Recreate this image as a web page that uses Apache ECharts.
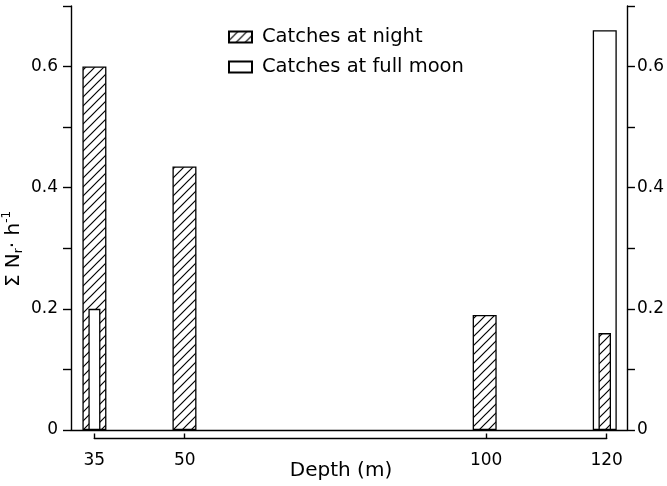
<!DOCTYPE html>
<html>
<head>
<meta charset="utf-8">
<script src="https://cdn.jsdelivr.net/npm/echarts@6/dist/echarts.min.js"></script>
<style>
html,body{margin:0;padding:0;background:#fff;}
#chart{width:667px;height:486px;}
</style>
</head>
<body>
<div id="chart"></div>
<script>
// ---- data ----
const depthTicks = [35, 50, 100, 120];
const yTicks = [0, 0.2, 0.4, 0.6];
const nightDepths = [35, 50, 100, 120];
const nightValues = [0.6, 0.435, 0.19, 0.16];
const moonDepths = [35, 120];
const moonValues = [0.2, 0.66];
// depths where the bar is drawn narrow, in front of the other series
const nightNarrowAt = [120];
const moonNarrowAt = [35];

const FONT = 'DejaVu Sans';

// hatch pattern
const tile = document.createElement('canvas');
tile.width = 9; tile.height = 9;
const tc = tile.getContext('2d');
tc.fillStyle = '#fff'; tc.fillRect(0, 0, 9, 9);
tc.strokeStyle = '#000'; tc.lineWidth = 1.2;
tc.beginPath();
tc.moveTo(-1, 10); tc.lineTo(10, -1);
tc.moveTo(-2, 2); tc.lineTo(2, -2);
tc.moveTo(7, 11); tc.lineTo(11, 7);
tc.stroke();
const hatch = { image: tile, repeat: 'repeat' };

function pairs(xs, vs, filt) {
  const out = [];
  xs.forEach((x, i) => { if (filt(x)) out.push([x, vs[i]]); });
  return out;
}

const nightWide = pairs(nightDepths, nightValues, x => nightNarrowAt.indexOf(x) < 0);
const nightNarrow = pairs(nightDepths, nightValues, x => nightNarrowAt.indexOf(x) >= 0);
const moonWide = pairs(moonDepths, moonValues, x => moonNarrowAt.indexOf(x) < 0);
const moonNarrow = pairs(moonDepths, moonValues, x => moonNarrowAt.indexOf(x) >= 0);

const XMIN = 31.1, XMAX = 123.7;
function hiddenX(i) {
  return { type: 'value', gridIndex: 0, min: XMIN, max: XMAX, show: false };
}

const chart = echarts.init(document.getElementById('chart'), null, { renderer: 'canvas' });

function yLabel(v) {
  for (const t of yTicks) if (Math.abs(v - t) < 1e-6) return t === 0 ? '0' : String(t);
  return '';
}

const option = {
  backgroundColor: '#fff',
  animation: false,
  grid: [
    { left: 71, right: 38, top: 6, height: 424 },
    { left: 94.3, right: 60.3, top: 437.5, height: 1 }
  ],
  legend: {
    orient: 'vertical',
    left: 228, top: 26,
    padding: 0,
    icon: 'rect',
    itemWidth: 23, itemHeight: 11,
    itemGap: 8,
    data: ['Catches at night', 'Catches at full moon'],
    textStyle: { fontFamily: FONT, fontSize: 19.5, color: '#000', lineHeight: 22, padding: [0, 0, 0, 5] },
    selectedMode: false
  },
  xAxis: [
    { type: 'value', gridIndex: 0, min: XMIN, max: XMAX,
      axisLine: { show: true, onZero: false, lineStyle: { color: '#000', width: 1.4 } },
      axisTick: { show: false }, axisLabel: { show: false }, splitLine: { show: false } },
    hiddenX(1), hiddenX(2), hiddenX(3),
    { type: 'value', gridIndex: 1, min: 35, max: 120, position: 'bottom',
      axisLine: { show: true, lineStyle: { color: '#000', width: 1.4 } },
      axisTick: { show: true, inside: true, length: 5, customValues: depthTicks, lineStyle: { color: '#000', width: 1.4 } },
      axisLabel: { show: true, customValues: depthTicks, margin: 14, fontFamily: FONT, fontSize: 17, color: '#000' },
      splitLine: { show: false } }
  ],
  yAxis: [
    { type: 'value', gridIndex: 0, min: 0, max: 0.7, interval: 0.1, position: 'left',
      axisLine: { show: true, lineStyle: { color: '#000', width: 1.4 } },
      axisTick: { show: true, length: 8, lineStyle: { color: '#000', width: 1.4 } },
      axisLabel: { margin: 13, fontFamily: FONT, fontSize: 17, color: '#000', formatter: yLabel },
      splitLine: { show: false } },
    { type: 'value', gridIndex: 0, min: 0, max: 0.7, interval: 0.1, position: 'right',
      axisLine: { show: true, lineStyle: { color: '#000', width: 1.4 } },
      axisTick: { show: true, length: 8, lineStyle: { color: '#000', width: 1.4 } },
      axisLabel: { margin: 10, fontFamily: FONT, fontSize: 17, color: '#000', formatter: yLabel },
      splitLine: { show: false } },
    { type: 'value', gridIndex: 1, min: 0, max: 1, show: false }
  ],
  graphic: [{
    type: 'text',
    x: 14, y: 249,
    rotation: Math.PI / 2,
    style: {
      text: '{a|Σ N}{s|r}{a|· h}{p|-1}',
      align: 'center', verticalAlign: 'middle',
      fill: '#000',
      rich: {
        a: { fontFamily: FONT, fontSize: 20, lineHeight: 26, verticalAlign: 'middle' },
        s: { fontFamily: FONT, fontSize: 12, lineHeight: 26, verticalAlign: 'bottom', padding: [0, 0, 2, 0] },
        p: { fontFamily: FONT, fontSize: 12, lineHeight: 26, verticalAlign: 'top' }
      }
    }
  }, {
    type: 'text',
    x: 341, y: 471,
    style: {
      text: 'Depth (m)',
      align: 'center', verticalAlign: 'middle',
      fill: '#000',
      fontFamily: FONT, fontSize: 20
    }
  }],
  series: [
    { name: 'Catches at night', type: 'bar', xAxisIndex: 0, yAxisIndex: 0, barWidth: 24, data: nightWide,
      itemStyle: { color: hatch, borderColor: '#000', borderWidth: 1.3 }, z: 2 },
    { name: 'Catches at full moon', type: 'bar', xAxisIndex: 1, yAxisIndex: 0, barWidth: 24, data: moonWide,
      itemStyle: { color: '#fff', borderColor: '#000', borderWidth: 1.3 }, z: 2 },
    { name: 'Catches at night', type: 'bar', xAxisIndex: 2, yAxisIndex: 0, barWidth: 12.5, data: nightNarrow,
      itemStyle: { color: hatch, borderColor: '#000', borderWidth: 1.3 }, z: 3 },
    { name: 'Catches at full moon', type: 'bar', xAxisIndex: 3, yAxisIndex: 0, barWidth: 12, data: moonNarrow,
      itemStyle: { color: '#fff', borderColor: '#000', borderWidth: 1.3 }, z: 3 }
  ]
};
chart.setOption(option);
</script>
</body>
</html>
